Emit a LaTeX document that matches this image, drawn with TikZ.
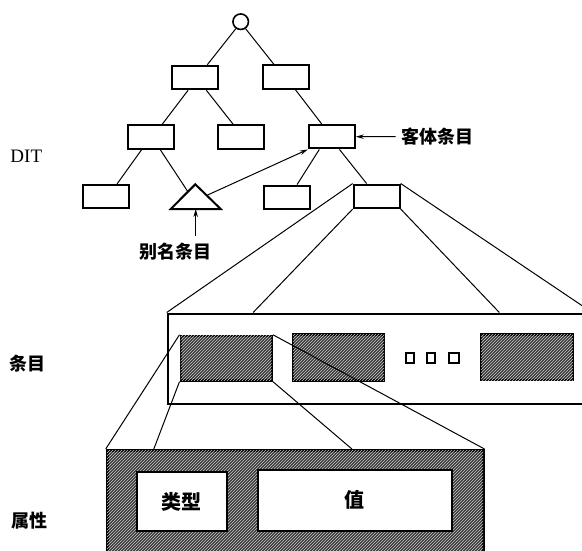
\documentclass[tikz,border=0pt]{standalone}
\usepackage{fontspec}
\setmainfont{Liberation Serif}
\newfontfamily\cjk{Noto Sans CJK SC}
\usetikzlibrary{arrows.meta,calc,patterns}
\begin{document}
\begin{tikzpicture}[x=1pt,y=-1pt,
  treebox/.style={draw,line width=2pt,minimum width=46pt,minimum height=23.5pt,inner sep=0pt},
  conn/.style={line width=1pt},
  arr/.style={line width=1pt,-{Stealth[length=8pt,width=4.5pt]}},
  hatched/.style={draw,line width=2.4pt,fill=black!78,postaction={pattern=north east lines,pattern color=black!20}},
  plainbox/.style={draw,line width=2pt,fill=white,inner sep=0pt},
  sq/.style={draw,line width=1.8pt,minimum height=10pt,inner sep=0pt},
  lbl/.style={font=\cjk\bfseries\fontsize{18}{18}\selectfont,inner sep=1pt}
]
\useasboundingbox (0,0) rectangle (582,551);
\clip (0,0) rectangle (582,551);

% ---------- DIT tree ----------
\node[draw,line width=1.6pt,circle,minimum size=15.5pt,inner sep=0pt] (root) at (240.7,21.7) {};
\node[treebox] (l1l) at (195.3,77.5) {};
\node[treebox] (l1r) at (286,77.2) {};
\node[treebox] (na) at (150.7,137) {};
\node[treebox] (nb) at (241.3,137) {};
\node[treebox] (nc) at (331.8,136.7) {};
\node[treebox] (nd) at (106,196.7) {};
\node[treebox] (ne) at (287,197.3) {};
\node[treebox] (nf) at (376.7,196.3) {};

\coordinate (tapex) at (195.3,184.3);
\coordinate (tleft) at (170.7,209);
\coordinate (tright) at (220.7,209);
\draw[line width=2pt,line join=miter] (tapex) -- (tleft) -- (tright) -- cycle;
\coordinate (tbase) at (195.7,209);

\draw[conn] (root.235) -- ($(l1l.north west)!0.75!(l1l.north east)$);
\draw[conn] (root.305) -- ($(l1r.north west)!0.25!(l1r.north east)$);
\draw[conn] ($(l1l.south west)!0.35!(l1l.south east)$) -- ($(na.north west)!0.74!(na.north east)$);
\draw[conn] ($(l1l.south west)!0.73!(l1l.south east)$) -- ($(nb.north west)!0.33!(nb.north east)$);
\draw[conn] ($(l1r.south west)!0.70!(l1r.south east)$) -- ($(nc.north west)!0.29!(nc.north east)$);
\draw[conn] ($(na.south west)!0.31!(na.south east)$) -- ($(nd.north west)!0.73!(nd.north east)$);
\draw[conn] ($(na.south west)!0.70!(na.south east)$) -- ($(tapex)!0.3!(tleft)$);
\draw[conn] ($(nc.south west)!0.24!(nc.south east)$) -- ($(ne.north west)!0.71!(ne.north east)$);
\draw[conn] ($(nc.south west)!0.66!(nc.south east)$) -- ($(nf.north west)!0.29!(nf.north east)$);

% alias pointer
\draw[arr] ($(tapex)!0.45!(tright)$) -- (nc.south west);

% labels with arrows
\node[font=\fontsize{19}{19}\selectfont,inner sep=0pt] (dit) at (26.3,156) {DIT};
\node[lbl,anchor=west] (obj) at (400.5,136.5) {客体条目};
\draw[arr] ($(obj.west)+(-5,0)$) -- (nc.east);
\node[lbl] (alias) at (175,252) {别名条目};
\coordinate (aliastail) at (195.7,236);
\draw[arr] (aliastail) -- (tbase);

% ---------- entry ----------
\node[draw,line width=2pt,fill=white,inner sep=0pt,minimum width=430pt,minimum height=90pt,anchor=north west] (entry) at (166.7,312.5) {};
\node[hatched,minimum width=91pt,minimum height=44.5pt,inner sep=0pt] (e1) at (226.2,358.2) {};
\node[hatched,minimum width=91pt,minimum height=46pt,inner sep=0pt] (e2) at (338.7,357.5) {};
\node[hatched,minimum width=91.7pt,minimum height=45.7pt,inner sep=0pt] (e3) at (526.9,357.2) {};
\node[sq,minimum width=8pt] (s1) at (410,358.3) {};
\node[sq,minimum width=8pt] (s2) at (431.2,358.3) {};
\node[sq,minimum width=10pt] (s3) at (453.8,358.3) {};
\node[lbl] (tentry) at (27.5,363.5) {条目};

\draw[conn] (nf.north west) -- (entry.north west);
\draw[conn] (nf.south west) -- ($(entry.north west)!0.20!(entry.north east)$);
\draw[conn] (nf.south east) -- ($(entry.north west)!0.77!(entry.north east)$);
\draw[conn] (nf.north east) -- ($(entry.north west)!0.985!(entry.north east)$);

% ---------- attribute ----------
\node[hatched,line width=2.8pt,minimum width=376pt,minimum height=120pt,inner sep=0pt,anchor=north west] (attr) at (105.7,449) {};
\node[plainbox,minimum width=90pt,minimum height=58.4pt,font=\cjk\bfseries\fontsize{20}{20}\selectfont] (typ) at (181.7,501.5) {类型};
\node[plainbox,minimum width=194pt,minimum height=60.7pt,font=\cjk\bfseries\fontsize{20}{20}\selectfont] (val) at (354.7,500.3) {值};
\node[lbl] (tattr) at (30,521) {属性};

\draw[conn] (e1.north west) -- (attr.north west);
\draw[conn] (e1.south west) -- ($(attr.north west)!0.127!(attr.north east)$);
\draw[conn] (e1.south east) -- ($(attr.north west)!0.65!(attr.north east)$);
\draw[conn] (e1.north east) -- (attr.north east);
\end{tikzpicture}
\end{document}
